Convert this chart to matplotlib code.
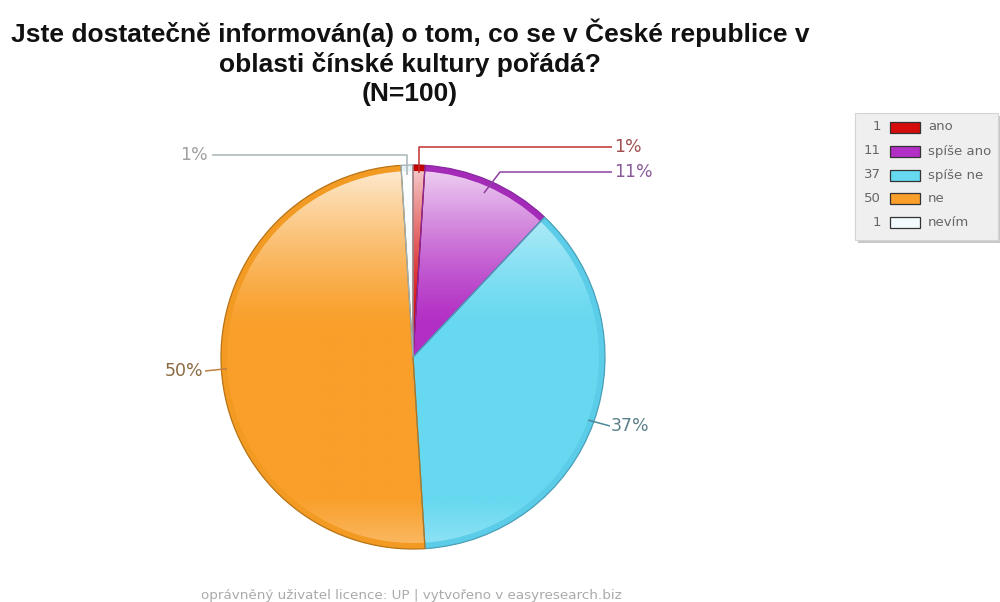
import numpy as np
import matplotlib.pyplot as plt
from matplotlib.patches import Rectangle
from matplotlib.colors import to_rgb

# ---- data ----
categories = ["ano", "spíše ano", "spíše ne", "ne", "nevím"]
counts = [1, 11, 37, 50, 1]
colors = ["#d40c0c", "#b22ec4", "#66d8f0", "#f99f2a", "#f2fafe"]
rim_colors = ["#c40000", "#a42ab8", "#5ccde8", "#f39a22", "#e4f0f6"]
edge_colors = ["#a00000", "#8a2aa0", "#4aa0b8", "#b87418", "#9ab0b8"]
leader_colors = ["#c03030", "#9040a0", "#4a8898", "#c08040", "#a8b4b8"]
label_colors = ["#a05050", "#8a5a9a", "#5a7f8a", "#8a6a40", "#a0a0a0"]
title = ("Jste dostatečně informován(a) o tom, co se v České republice v\n"
         "oblasti čínské kultury pořádá?\n(N=100)")
footer = "oprávněný uživatel licence: UP | vytvořeno v easyresearch.biz"

W, H = 1000, 602
fig = plt.figure(figsize=(W / 100, H / 100), dpi=100)
ax = fig.add_axes([0, 0, 1, 1])


def Y(p):
    """pixel row (from top) -> data y (from bottom)"""
    return H - p


cx, cy, R = 413, Y(357), 192
total = sum(counts)

# base pie
wedges, _ = ax.pie(counts, colors=colors, startangle=90, counterclock=False,
                   radius=R, center=(cx, cy),
                   wedgeprops=dict(linewidth=0, zorder=1))

# glossy vertical shading inside each slice
n = 400
t = np.linspace(0, 1, n)[:, None]
wmix = np.clip(1 - t / 0.42, 0, 1) ** 1.3 * 0.8 + np.clip((t - 0.87) / 0.13, 0, 1) * 0.28
for wd, col in zip(wedges, colors):
    rgb = np.array(to_rgb(col))[None, None, :]
    img = rgb * (1 - wmix[..., None]) + wmix[..., None]
    img = np.repeat(img, 2, axis=1)
    im = ax.imshow(img, extent=(cx - R, cx + R, cy - R, cy + R), origin="upper",
                   zorder=2, interpolation="bilinear", aspect="auto")
    im.set_clip_path(wd)

# saturated rim
ax.pie(counts, colors=rim_colors, startangle=90, counterclock=False,
       radius=R, center=(cx, cy), wedgeprops=dict(width=6, linewidth=0, zorder=3))

# thin slice outlines
outl, _ = ax.pie(counts, colors=["none"] * len(counts), startangle=90, counterclock=False,
                 radius=R, center=(cx, cy), wedgeprops=dict(linewidth=0.9, zorder=4))
for wd, ec in zip(outl, edge_colors):
    wd.set_edgecolor(ec)
    wd.set_facecolor("none")

# leader lines and percentage labels
cum = np.cumsum([0] + counts)
mids = [np.deg2rad(90 - 360 * (cum[i] + cum[i + 1]) / 2 / total) for i in range(len(counts))]


def rim_point(i, f):
    return cx + f * R * np.cos(mids[i]), cy + f * R * np.sin(mids[i])


# (radius fraction of anchor, elbow, line y, line end x, text x, alignment)
leaders = [
    (0.96, "vert", Y(147), 612, 614, "left"),
    (0.93, (500, Y(172)), Y(172), 612, 614, "left"),
    (0.97, None, Y(426), 610, 611, "left"),
    (0.97, None, Y(371), 205, 203, "right"),
    (0.95, "vert", Y(155), 212, 208, "right"),
]
for i, (f, elbow, ly, ex, tx, ha) in enumerate(leaders):
    ax0, ay0 = rim_point(i, f)
    if elbow == "vert":
        xs, ys = [ax0, ax0, ex], [ay0, ly, ly]
    elif elbow is None:
        xs, ys = [ax0, ex], [ay0, ly]
    else:
        xs, ys = [ax0, elbow[0], ex], [ay0, elbow[1], ly]
    ax.plot(xs, ys, color=leader_colors[i], lw=1.1, zorder=5, solid_capstyle="butt")
    ax.text(tx, ly, f"{100 * counts[i] / total:.0f}%", ha=ha, va="center",
            fontsize=12.5, color=label_colors[i], family="DejaVu Sans", zorder=6)

# title
ax.text(410, Y(62), title, ha="center", va="center", fontsize=19, fontweight="bold",
        family="Liberation Sans", color="#111111", linespacing=1.26)

# legend
lx0, ly0, lx1, ly1 = 855, 113, 998, 240
ax.add_patch(Rectangle((lx0 + 3, Y(ly1 + 3)), lx1 - lx0, ly1 - ly0,
                       facecolor="#c8c8c8", edgecolor="none", zorder=7))
ax.add_patch(Rectangle((lx0, Y(ly1)), lx1 - lx0, ly1 - ly0,
                       facecolor="#efefef", edgecolor="#d4d4d4", lw=0.8, zorder=8))
row_y = [127, 151, 175, 198, 222]
for i, cat in enumerate(categories):
    yy = Y(row_y[i])
    ax.text(881, yy, str(counts[i]), ha="right", va="center", fontsize=9.5,
            color="#666666", family="DejaVu Sans", zorder=9)
    ax.add_patch(Rectangle((890, yy - 5.5), 30, 11, facecolor=colors[i],
                           edgecolor="#333333", lw=0.9, zorder=9))
    ax.text(928, yy, cat, ha="left", va="center", fontsize=9.5,
            color="#666666", family="DejaVu Sans", zorder=9)

# footer
ax.text(411, Y(596), footer, ha="center", va="center", fontsize=9.7,
        color="#aaaaaa", family="DejaVu Sans")

ax.set_xlim(0, W)
ax.set_ylim(0, H)
ax.set_aspect("auto")
ax.axis("off")
fig.savefig("out.png", dpi=100, facecolor="white")
